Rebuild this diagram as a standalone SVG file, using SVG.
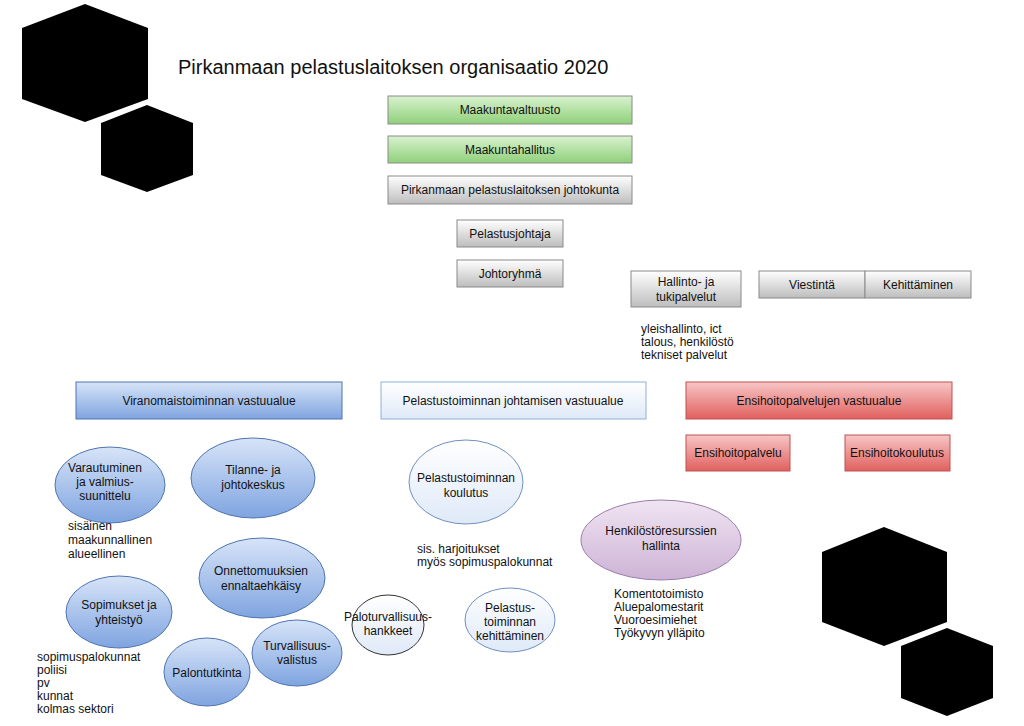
<svg xmlns="http://www.w3.org/2000/svg" width="1024" height="726" viewBox="0 0 1024 726">
<defs>
<linearGradient id="gG" x1="0" y1="0" x2="0" y2="1"><stop offset="0" stop-color="#d9f2cf"/><stop offset="1" stop-color="#8fd07a"/></linearGradient>
<linearGradient id="gY" x1="0" y1="0" x2="0" y2="1"><stop offset="0" stop-color="#ffffff"/><stop offset="1" stop-color="#bdbdbd"/></linearGradient>
<linearGradient id="gB" x1="0" y1="0" x2="0" y2="1"><stop offset="0" stop-color="#d7e4f8"/><stop offset="1" stop-color="#7fa4e0"/></linearGradient>
<linearGradient id="gW" x1="0" y1="0" x2="0" y2="1"><stop offset="0" stop-color="#ffffff"/><stop offset="1" stop-color="#dfe9f8"/></linearGradient>
<linearGradient id="gR" x1="0" y1="0" x2="0" y2="1"><stop offset="0" stop-color="#f7c6c6"/><stop offset="1" stop-color="#e0605e"/></linearGradient>
<linearGradient id="gP" x1="0" y1="0" x2="0" y2="1"><stop offset="0" stop-color="#f0e4f2"/><stop offset="1" stop-color="#cdb3d6"/></linearGradient>
</defs>
<style>
text{font-family:"Liberation Sans",Arial,sans-serif;font-size:12px;fill:#111}
.c{text-anchor:middle}
.b{stroke:#8a8a8a;stroke-width:1}
.e{stroke:#4f74b0;stroke-width:1}
</style>
<rect width="1024" height="726" fill="#fff"/>
<polygon points="85,4 148,28 148,99 85,122 22,99 22,28" fill="#000"/>
<polygon points="147,105 193,123 193,175 147,192 101,175 101,123" fill="#000"/>
<polygon points="884,527 947,552 947,622 884,646 822,622 822,552" fill="#000"/>
<polygon points="947,628 993,646 993,698 947,716 901,698 901,646" fill="#000"/>
<text x="178" y="74" style="font-size:20px">Pirkanmaan pelastuslaitoksen organisaatio 2020</text>
<g id="connectors"></g>
<g id="n1"><rect class="b" x="388" y="96" width="244" height="28" fill="url(#gG)"/><text class="c" x="510" y="114">Maakuntavaltuusto</text></g>
<g id="n2"><rect class="b" x="388" y="136" width="244" height="27" fill="url(#gG)"/><text class="c" x="510" y="154">Maakuntahallitus</text></g>
<g id="n3"><rect class="b" x="388" y="176" width="244" height="28" fill="url(#gY)"/><text class="c" x="510" y="194">Pirkanmaan pelastuslaitoksen johtokunta</text></g>
<g id="n4"><rect class="b" x="457" y="220" width="106" height="27" fill="url(#gY)"/><text class="c" x="510" y="238">Pelastusjohtaja</text></g>
<g id="n5"><rect class="b" x="457" y="260" width="106" height="27" fill="url(#gY)"/><text class="c" x="510" y="278">Johtoryhmä</text></g>
<g id="n6"><rect class="b" x="631" y="271" width="110" height="36" fill="url(#gY)"/><text class="c" x="686" y="286">Hallinto- ja</text><text class="c" x="686" y="301">tukipalvelut</text></g>
<g id="n7"><rect class="b" x="759" y="271" width="106" height="27" fill="url(#gY)"/><text class="c" x="812" y="289">Viestintä</text></g>
<g id="n8"><rect class="b" x="865" y="271" width="106" height="27" fill="url(#gY)"/><text class="c" x="918" y="289">Kehittäminen</text></g>
<text x="641" y="333">yleishallinto, ict</text><text x="641" y="346">talous, henkilöstö</text><text x="641" y="359">tekniset palvelut</text>
<g id="n9"><rect class="e" x="76" y="382" width="266" height="37" fill="url(#gB)"/><text class="c" x="209" y="405">Viranomaistoiminnan vastuualue</text></g>
<g id="n10"><rect x="381" y="382" width="265" height="37" fill="url(#gW)" stroke="#8fb0dd"/><text class="c" x="513" y="405">Pelastustoiminnan johtamisen vastuualue</text></g>
<g id="n11"><rect x="686" y="382" width="266" height="37" fill="url(#gR)" stroke="#c05050"/><text class="c" x="819" y="405">Ensihoitopalvelujen vastuualue</text></g>
<g id="n12"><rect x="686" y="435" width="104" height="36" fill="url(#gR)" stroke="#c05050"/><text class="c" x="738" y="457">Ensihoitopalvelu</text></g>
<g id="n13"><rect x="845" y="435" width="105" height="36" fill="url(#gR)" stroke="#c05050"/><text class="c" x="897" y="457">Ensihoitokoulutus</text></g>
<g id="n14"><ellipse class="e" cx="110" cy="485" rx="55" ry="38" fill="url(#gB)"/><text class="c" x="105" y="472">Varautuminen</text><text class="c" x="105" y="486">ja valmius-</text><text class="c" x="105" y="500">suunittelu</text></g>
<text x="68" y="530">sisäinen</text><text x="68" y="544">maakunnallinen</text><text x="68" y="558">alueellinen</text>
<g id="n15"><ellipse class="e" cx="253" cy="478" rx="62" ry="40" fill="url(#gB)"/><text class="c" x="253" y="474">Tilanne- ja</text><text class="c" x="253" y="489">johtokeskus</text></g>
<g id="n16"><ellipse cx="466" cy="482" rx="57" ry="42" fill="url(#gW)" stroke="#6f8fc4"/><text class="c" x="466" y="482">Pelastustoiminnan</text><text class="c" x="466" y="497">koulutus</text></g>
<text x="417" y="553">sis. harjoitukset</text><text x="417" y="566">myös sopimuspalokunnat</text>
<g id="n17"><ellipse cx="661" cy="540" rx="80" ry="40" fill="url(#gP)" stroke="#9a7fa8"/><text class="c" x="661" y="535">Henkilöstöresurssien</text><text class="c" x="661" y="550">hallinta</text></g>
<text x="614" y="598">Komentotoimisto</text><text x="614" y="611">Aluepalomestarit</text><text x="614" y="624">Vuoroesimiehet</text><text x="614" y="637">Työkyvyn ylläpito</text>
<g id="n18"><ellipse class="e" cx="262" cy="578" rx="63" ry="40" fill="url(#gB)"/><text class="c" x="261" y="575">Onnettomuuksien</text><text class="c" x="261" y="590">ennaltaehkäisy</text></g>
<g id="n19"><ellipse class="e" cx="119" cy="612" rx="53" ry="36" fill="url(#gB)"/><text class="c" x="119" y="609">Sopimukset ja</text><text class="c" x="119" y="624">yhteistyö</text></g>
<text x="37" y="661">sopimuspalokunnat</text><text x="37" y="674">poliisi</text><text x="37" y="687">pv</text><text x="37" y="700">kunnat</text><text x="37" y="713">kolmas sektori</text>
<g id="n20"><ellipse class="e" cx="207" cy="672" rx="43" ry="34" fill="url(#gB)"/><text class="c" x="207" y="677">Palontutkinta</text></g>
<g id="n21"><ellipse class="e" cx="297" cy="653" rx="45" ry="33" fill="url(#gB)"/><text class="c" x="297" y="650">Turvallisuus-</text><text class="c" x="297" y="664">valistus</text></g>
<g id="n22"><ellipse cx="388" cy="625" rx="36" ry="30" fill="url(#gW)" stroke="#333"/><text class="c" x="388" y="621">Paloturvallisuus-</text><text class="c" x="388" y="635">hankkeet</text></g>
<g id="n23"><ellipse cx="510" cy="620" rx="45" ry="32" fill="url(#gW)" stroke="#6f8fc4"/><text class="c" x="510" y="612">Pelastus-</text><text class="c" x="510" y="626">toiminnan</text><text class="c" x="510" y="640">kehittäminen</text></g>
</svg>
